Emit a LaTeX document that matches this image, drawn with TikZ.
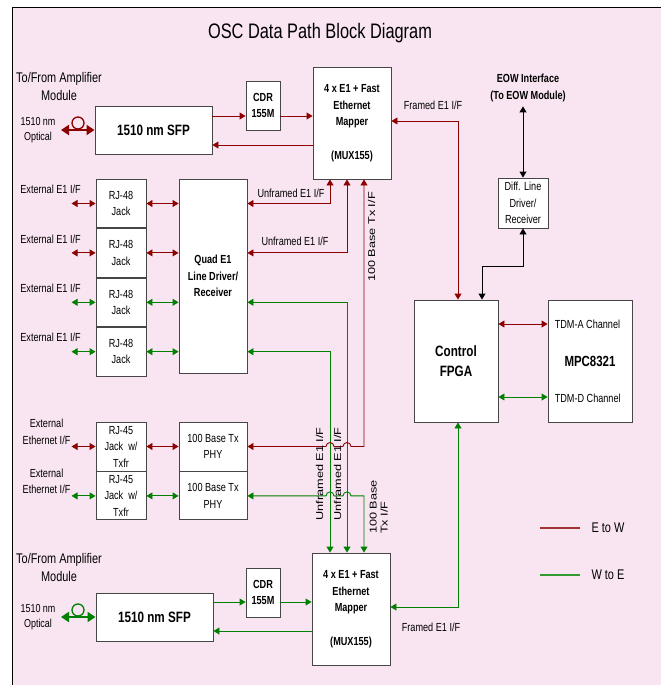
\documentclass[tikz,border=0pt]{standalone}
\usepackage{fontspec}
\usepackage{graphicx}
\setmainfont[FakeStretch=0.78]{Liberation Sans}
\newfontfamily\rotfont{Liberation Sans}
\usetikzlibrary{arrows.meta,positioning}
\definecolor{ewred}{RGB}{140,0,0}
\definecolor{wegreen}{RGB}{0,128,0}
\definecolor{bgpink}{RGB}{249,229,241}
\definecolor{boxline}{RGB}{70,70,70}
\newcommand{\flatlbl}[1]{\scalebox{1}[0.78]{\begin{tabular}{@{}l@{}}#1\end{tabular}}}
\begin{document}
\begin{tikzpicture}[
  x=1pt, y=-1pt,
  >={Triangle[length=6pt,width=7pt]},
  font=\fontsize{11.7}{16.5}\selectfont,
  box/.style={draw=boxline, fill=white, line width=.9pt, inner sep=0pt, align=center},
  bbox/.style={box, font=\fontsize{11.7}{16.5}\selectfont\bfseries},
  lbl/.style={inner sep=0pt, align=center},
  vlbl/.style={inner sep=0pt, align=left, rotate=90, font=\rotfont\fontsize{12.7}{14}\selectfont},
  ew/.style={draw=ewred, line width=.9pt},
  we/.style={draw=wegreen, line width=.9pt},
  fibre/.style={line width=2.4pt, {Triangle[length=8pt,width=10pt]}-{Triangle[length=8pt,width=10pt]}}
]
\useasboundingbox (0,0) rectangle (661,685);
\fill[bgpink] (12,8) rectangle (661,685);
\draw[line width=1pt] (661,8) -- (12,8) -- (12,685);
\node[lbl, font=\fontsize{21}{24}\selectfont] (title) at (320,33) {OSC Data Path Block Diagram};

% optical line, top
\node[lbl, font=\fontsize{14}{18}\selectfont] (ampTop) at (59,86) {To/From Amplifier\\Module};
\node[lbl, font=\fontsize{11.5}{15}\selectfont] (optTop) at (38,130) {1510 nm\\Optical};
\node[bbox, minimum width=117pt, minimum height=48pt, font=\fontsize{15}{18}\selectfont\bfseries] (sfpTop) at (153.5,130) {1510 nm SFP};
\node[bbox, minimum width=34pt, minimum height=49pt] (cdrTop) at (263,105.5) {CDR\\155M};
\node[bbox, minimum width=78pt, minimum height=112pt] (mapTop) at (352,123) {4 x E1 + Fast\\Ethernet\\Mapper\\[17pt](MUX155)};
\node[circle, draw=ewred, line width=1.3pt, minimum size=12pt, inner sep=0pt] (loopTop) at (78,123) {};
\coordinate (fibTop) at (61,130);
\draw[fibre, ewred] (fibTop) -- (sfpTop.west);
\draw[ew,->] ([yshift=14pt]sfpTop.east) -- ([yshift=14pt]cdrTop.west |- sfpTop.east);
\draw[ew,->] ([yshift=-10.5pt]cdrTop.east) -- ([yshift=-10.5pt]mapTop.west |- cdrTop.east);
\draw[ew,->] ([yshift=-15pt]mapTop.west |- sfpTop.east) -- ([yshift=-15pt]sfpTop.east);

% E1 jacks
\node[box, minimum width=50pt, minimum height=48.5pt] (jackA) at (121,203.5) {RJ-48\\Jack};
\node[box, minimum width=50pt, minimum height=48.5pt, below=0pt of jackA] (jackB) {RJ-48\\Jack};
\node[box, minimum width=50pt, minimum height=48.5pt, below=0pt of jackB] (jackC) {RJ-48\\Jack};
\node[box, minimum width=50pt, minimum height=48.5pt, below=0pt of jackC] (jackD) {RJ-48\\Jack};
\node[bbox, minimum width=68pt, minimum height=194pt] (quad) at (213,276) {Quad E1\\Line Driver/\\Receiver};
\node[lbl] (extA) at ([xshift=-45pt,yshift=14pt]jackA.west) {External E1 I/F};
\node[lbl] (extB) at ([xshift=-45pt,yshift=14pt]jackB.west) {External E1 I/F};
\node[lbl] (extC) at ([xshift=-45pt,yshift=14pt]jackC.west) {External E1 I/F};
\node[lbl] (extD) at ([xshift=-45pt,yshift=14pt]jackD.west) {External E1 I/F};
\draw[ew,<->] ([xshift=-24pt]jackA.west) -- (jackA.west);
\draw[ew,<->] ([xshift=-24pt]jackB.west) -- (jackB.west);
\draw[we,<->] ([xshift=-24pt]jackC.west) -- (jackC.west);
\draw[we,<->] ([xshift=-24pt]jackD.west) -- (jackD.west);
\draw[ew,<->] (jackA.east) -- (jackA.east -| quad.west);
\draw[ew,<->] (jackB.east) -- (jackB.east -| quad.west);
\draw[we,<->] (jackC.east) -- (jackC.east -| quad.west);
\draw[we,<->] (jackD.east) -- (jackD.east -| quad.west);

% ethernet jacks
\node[box, minimum width=50pt, minimum height=49pt] (rjA) at (121,446.5) {RJ-45\\Jack~~w/\\Txfr};
\node[box, minimum width=50pt, minimum height=48pt, below=0pt of rjA] (rjB) {RJ-45\\Jack~~w/\\Txfr};
\node[box, minimum width=68pt, minimum height=49pt] (phyA) at (213,446.5) {100 Base Tx\\PHY};
\node[box, minimum width=68pt, minimum height=48pt, below=0pt of phyA] (phyB) {100 Base Tx\\PHY};
\node[lbl] (ethA) at ([xshift=-49pt,yshift=14.5pt]rjA.west) {External\\Ethernet I/F};
\node[lbl] (ethB) at ([xshift=-49pt,yshift=14.5pt]rjB.west) {External\\Ethernet I/F};
\draw[ew,<->] ([xshift=-24pt]rjA.west) -- (rjA.west);
\draw[we,<->] ([xshift=-24pt]rjB.west) -- (rjB.west);
\draw[ew,<->] (rjA.east) -- (rjA.east -| phyA.west);
\draw[we,<->] (rjB.east) -- (rjB.east -| phyB.west);

% optical line, bottom
\node[lbl, font=\fontsize{14}{18}\selectfont] (ampBot) at (59,567.5) {To/From Amplifier\\Module};
\node[lbl, font=\fontsize{11.5}{15}\selectfont] (optBot) at (38,617) {1510 nm\\Optical};
\node[bbox, minimum width=117pt, minimum height=48pt, font=\fontsize{15}{18}\selectfont\bfseries] (sfpBot) at (154.5,617) {1510 nm SFP};
\node[bbox, minimum width=34pt, minimum height=49pt] (cdrBot) at (263,592.5) {CDR\\155M};
\node[bbox, minimum width=78pt, minimum height=112pt] (mapBot) at (351,609) {4 x E1 + Fast\\Ethernet\\Mapper\\[17pt](MUX155)};
\node[circle, draw=wegreen, line width=1.3pt, minimum size=12pt, inner sep=0pt] (loopBot) at (78,610) {};
\coordinate (fibBot) at (61,617);
\draw[fibre, wegreen] (fibBot) -- (sfpBot.west);
\draw[we,->] ([yshift=15pt]sfpBot.east) -- ([yshift=15pt]cdrBot.west |- sfpBot.east);
\draw[we,->] ([yshift=-9.5pt]cdrBot.east) -- ([yshift=-9.5pt]mapBot.west |- cdrBot.east);
\draw[we,->] ([yshift=-14pt]mapBot.west |- sfpBot.east) -- ([yshift=-14pt]sfpBot.east);

% E1 and ethernet to the mappers
\draw[ew,<->] (quad.east |- jackA.east) -| ([xshift=-22pt]mapTop.south);
\draw[ew,<->] (quad.east |- jackB.east) -| ([xshift=-5pt]mapTop.south);
\draw[we,<->] (quad.east |- jackC.east) -| ([xshift=-4pt]mapBot.north);
\draw[we,<->] (quad.east |- jackD.east) -| ([xshift=-21pt]mapBot.north);
\draw[ew,<->] ([xshift=12pt]mapTop.south) -- ([xshift=12pt]mapTop.south |- phyA.east) -- ++(-13,0)
  arc[start angle=0,end angle=180,radius=4pt] -- ++(-9,0)
  arc[start angle=0,end angle=180,radius=4pt] -- (phyA.east);
\draw[we,<->] ([xshift=13pt]mapBot.north) -- ([xshift=13pt]mapBot.north |- phyB.east) -- ++(-13,0)
  arc[start angle=0,end angle=180,radius=4pt] -- ++(-9,0)
  arc[start angle=0,end angle=180,radius=4pt] -- (phyB.east);
\node[lbl] (unfA) at (291,193) {Unframed E1 I/F};
\node[lbl] (unfB) at (295,241) {Unframed E1 I/F};
\node[vlbl] (txTop) at (373,237) {\flatlbl{100 Base Tx I/F}};
\node[vlbl] (unfC) at (321,474) {\flatlbl{Unframed E1 I/F}};
\node[vlbl] (unfD) at (339,474) {\flatlbl{Unframed E1 I/F}};
\node[vlbl] (txBot) at (380,507) {\flatlbl{100 Base\\Tx I/F}};

% control side
\node[lbl, font=\fontsize{11.7}{17.5}\selectfont\bfseries] (eow) at (528,88) {EOW Interface\\(To EOW Module)};
\node[box, minimum width=50pt, minimum height=50pt] (diff) at (523,203) {Diff. Line\\Driver/\\Receiver};
\node[bbox, minimum width=84pt, minimum height=122pt, font=\fontsize{15}{20}\selectfont\bfseries] (fpga) at (456,361) {Control\\FPGA};
\node[bbox, minimum width=84pt, minimum height=122pt, font=\fontsize{14.7}{18}\selectfont\bfseries] (mpc) at (590,361) {MPC8321};
\node[lbl, anchor=west] (tdmA) at ([xshift=7pt,yshift=37pt]mpc.west) {TDM-A Channel};
\node[lbl, anchor=west] (tdmD) at ([xshift=7pt,yshift=-37pt]mpc.west) {TDM-D Channel};
\draw[line width=.9pt,<->] ([yshift=-4pt]diff.north |- eow.south) -- (diff.north);
\draw[line width=.9pt,<->] (diff.south) -- ++(0,38) -| ([xshift=26pt]fpga.north);
\draw[ew,<->] ([yshift=2pt]mapTop.east) -| ([xshift=2pt]fpga.north);
\draw[we,<->] ([xshift=2pt]fpga.south) |- ([yshift=2pt]mapBot.east);
\draw[ew,<->] ([yshift=37pt]fpga.east) -- ([yshift=37pt]mpc.west);
\draw[we,<->] ([yshift=-36pt]fpga.east) -- ([yshift=-36pt]mpc.west);
\node[lbl] (frTop) at (433,105) {Framed E1 I/F};
\node[lbl] (frBot) at (431,627) {Framed E1 I/F};

% key
\node[lbl, font=\fontsize{14}{16}\selectfont] (keyEW) at (608,528) {E to W};
\node[lbl, font=\fontsize{14}{16}\selectfont] (keyWE) at (608,575) {W to E};
\draw[ew, draw=ewred!80, line width=1.2pt] ([xshift=-11pt]keyEW.west) -- ++(-40,0);
\draw[we, draw=wegreen!80, line width=1.2pt] ([xshift=-11pt]keyWE.west) -- ++(-40,0);
\end{tikzpicture}
\end{document}
